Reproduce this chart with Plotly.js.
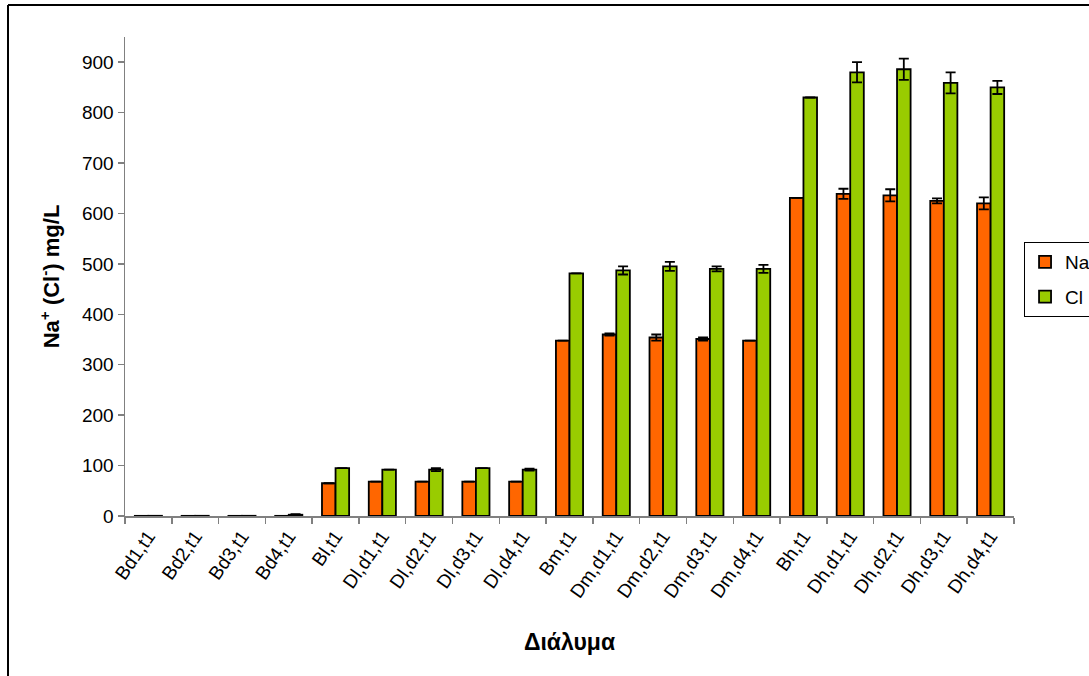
<!DOCTYPE html>
<html>
<head>
<meta charset="utf-8">
<script src="https://cdn.plot.ly/plotly-3.0.1.min.js"></script>
<style>
  html, body { margin: 0; padding: 0; background: #ffffff; }
  #chart { width: 1089px; height: 676px; }
</style>
</head>
<body>
<div id="chart"></div>
<script>
// Solutions (categories on the x axis)
const solutions = [
  'Bd1,t1', 'Bd2,t1', 'Bd3,t1', 'Bd4,t1', 'Bl,t1',
  'Dl,d1,t1', 'Dl,d2,t1', 'Dl,d3,t1', 'Dl,d4,t1', 'Bm,t1',
  'Dm,d1,t1', 'Dm,d2,t1', 'Dm,d3,t1', 'Dm,d4,t1', 'Bh,t1',
  'Dh,d1,t1', 'Dh,d2,t1', 'Dh,d3,t1', 'Dh,d4,t1'
];

// Na+ concentration (mg/L) and its error
const naValues = [0.3, 0.3, 0.3, 0.3, 65, 68, 68, 68, 68, 348, 360, 354, 351, 348, 631, 639, 636, 625, 620];
const naErrors = [0, 0, 0, 0, 0, 0, 0, 0, 0, 0, 2, 6, 3, 0, 0, 10, 12, 5, 12];

// Cl- concentration (mg/L) and its error
const clValues = [0.4, 0.4, 0.4, 2.5, 95, 92, 92, 95, 92, 481, 487, 495, 490, 490, 830, 880, 886, 859, 850];
const clErrors = [0, 0, 0, 1, 0, 0, 3, 0, 2, 0, 8, 9, 5, 8, 0, 20, 21, 21, 13];

const yTicks = [0, 100, 200, 300, 400, 500, 600, 700, 800, 900];

const FONT = 'Liberation Sans, Arial, sans-serif';

function errorStyle(arr) {
  return {
    type: 'data', array: arr, visible: true,
    color: '#000000', thickness: 1.8, width: 5
  };
}

const traces = [
  {
    type: 'bar', name: 'Na', x: solutions, y: naValues,
    legendgroup: 'na',
    marker: { color: '#FF6600', line: { color: '#000000', width: 1.8 } },
    error_y: errorStyle(naErrors)
  },
  {
    type: 'bar', name: 'Cl', x: solutions, y: clValues,
    legendgroup: 'cl',
    marker: { color: '#99CC00', line: { color: '#000000', width: 1.8 } },
    error_y: errorStyle(clErrors)
  }
];

const layout = {
  width: 1089, height: 676,
  paper_bgcolor: '#ffffff', plot_bgcolor: '#ffffff',
  margin: { l: 125, r: 75, t: 37, b: 160, autoexpand: false },
  font: { family: FONT, size: 19, color: '#000000' },
  barmode: 'group', bargap: 0.42, bargroupgap: 0,
  showlegend: true,
  legend: {
    x: 1.0113, y: 0.572, xanchor: 'left', yanchor: 'top',
    bordercolor: '#000000', borderwidth: 1, bgcolor: '#ffffff',
    font: { family: FONT, size: 19, color: '#000000' },
    traceorder: 'grouped', tracegroupgap: 7
  },
  xaxis: {
    type: 'category',
    tickangle: -55,
    tickson: 'boundaries',
    ticks: 'outside', ticklen: 6, tickcolor: '#808080', tickwidth: 1.5,
    showline: true, linecolor: '#808080', linewidth: 1.5,
    showgrid: false, zeroline: false,
    tickfont: { family: FONT, size: 19, color: '#000000' },
    title: { text: '<b>Διάλυμα</b>', font: { family: FONT, size: 23, color: '#000000' }, standoff: 33 }
  },
  yaxis: {
    range: [0, 950],
    tickvals: yTicks,
    ticks: 'outside', ticklen: 6, tickcolor: '#808080', tickwidth: 1.5,
    showline: true, linecolor: '#808080', linewidth: 1.5,
    showgrid: false, zeroline: false,
    tickfont: { family: FONT, size: 19, color: '#000000' },
    title: { text: '<b>Na<sup>+</sup> (Cl<sup>-</sup>) mg/L</b>', font: { family: FONT, size: 22, color: '#000000' }, standoff: 16 }
  },
  shapes: [
    // outer chart frame (left and top edges visible)
    { type: 'line', xref: 'paper', yref: 'paper', x0: -0.1316, x1: -0.1316, y0: 1.0668, y1: -0.5, line: { color: '#000000', width: 2 } },
    { type: 'line', xref: 'paper', yref: 'paper', x0: -0.1316, x1: 1.2, y0: 1.0668, y1: 1.0668, line: { color: '#000000', width: 2 } }
  ]
};

Plotly.newPlot('chart', traces, layout, { displayModeBar: false, staticPlot: true });
</script>
</body>
</html>
